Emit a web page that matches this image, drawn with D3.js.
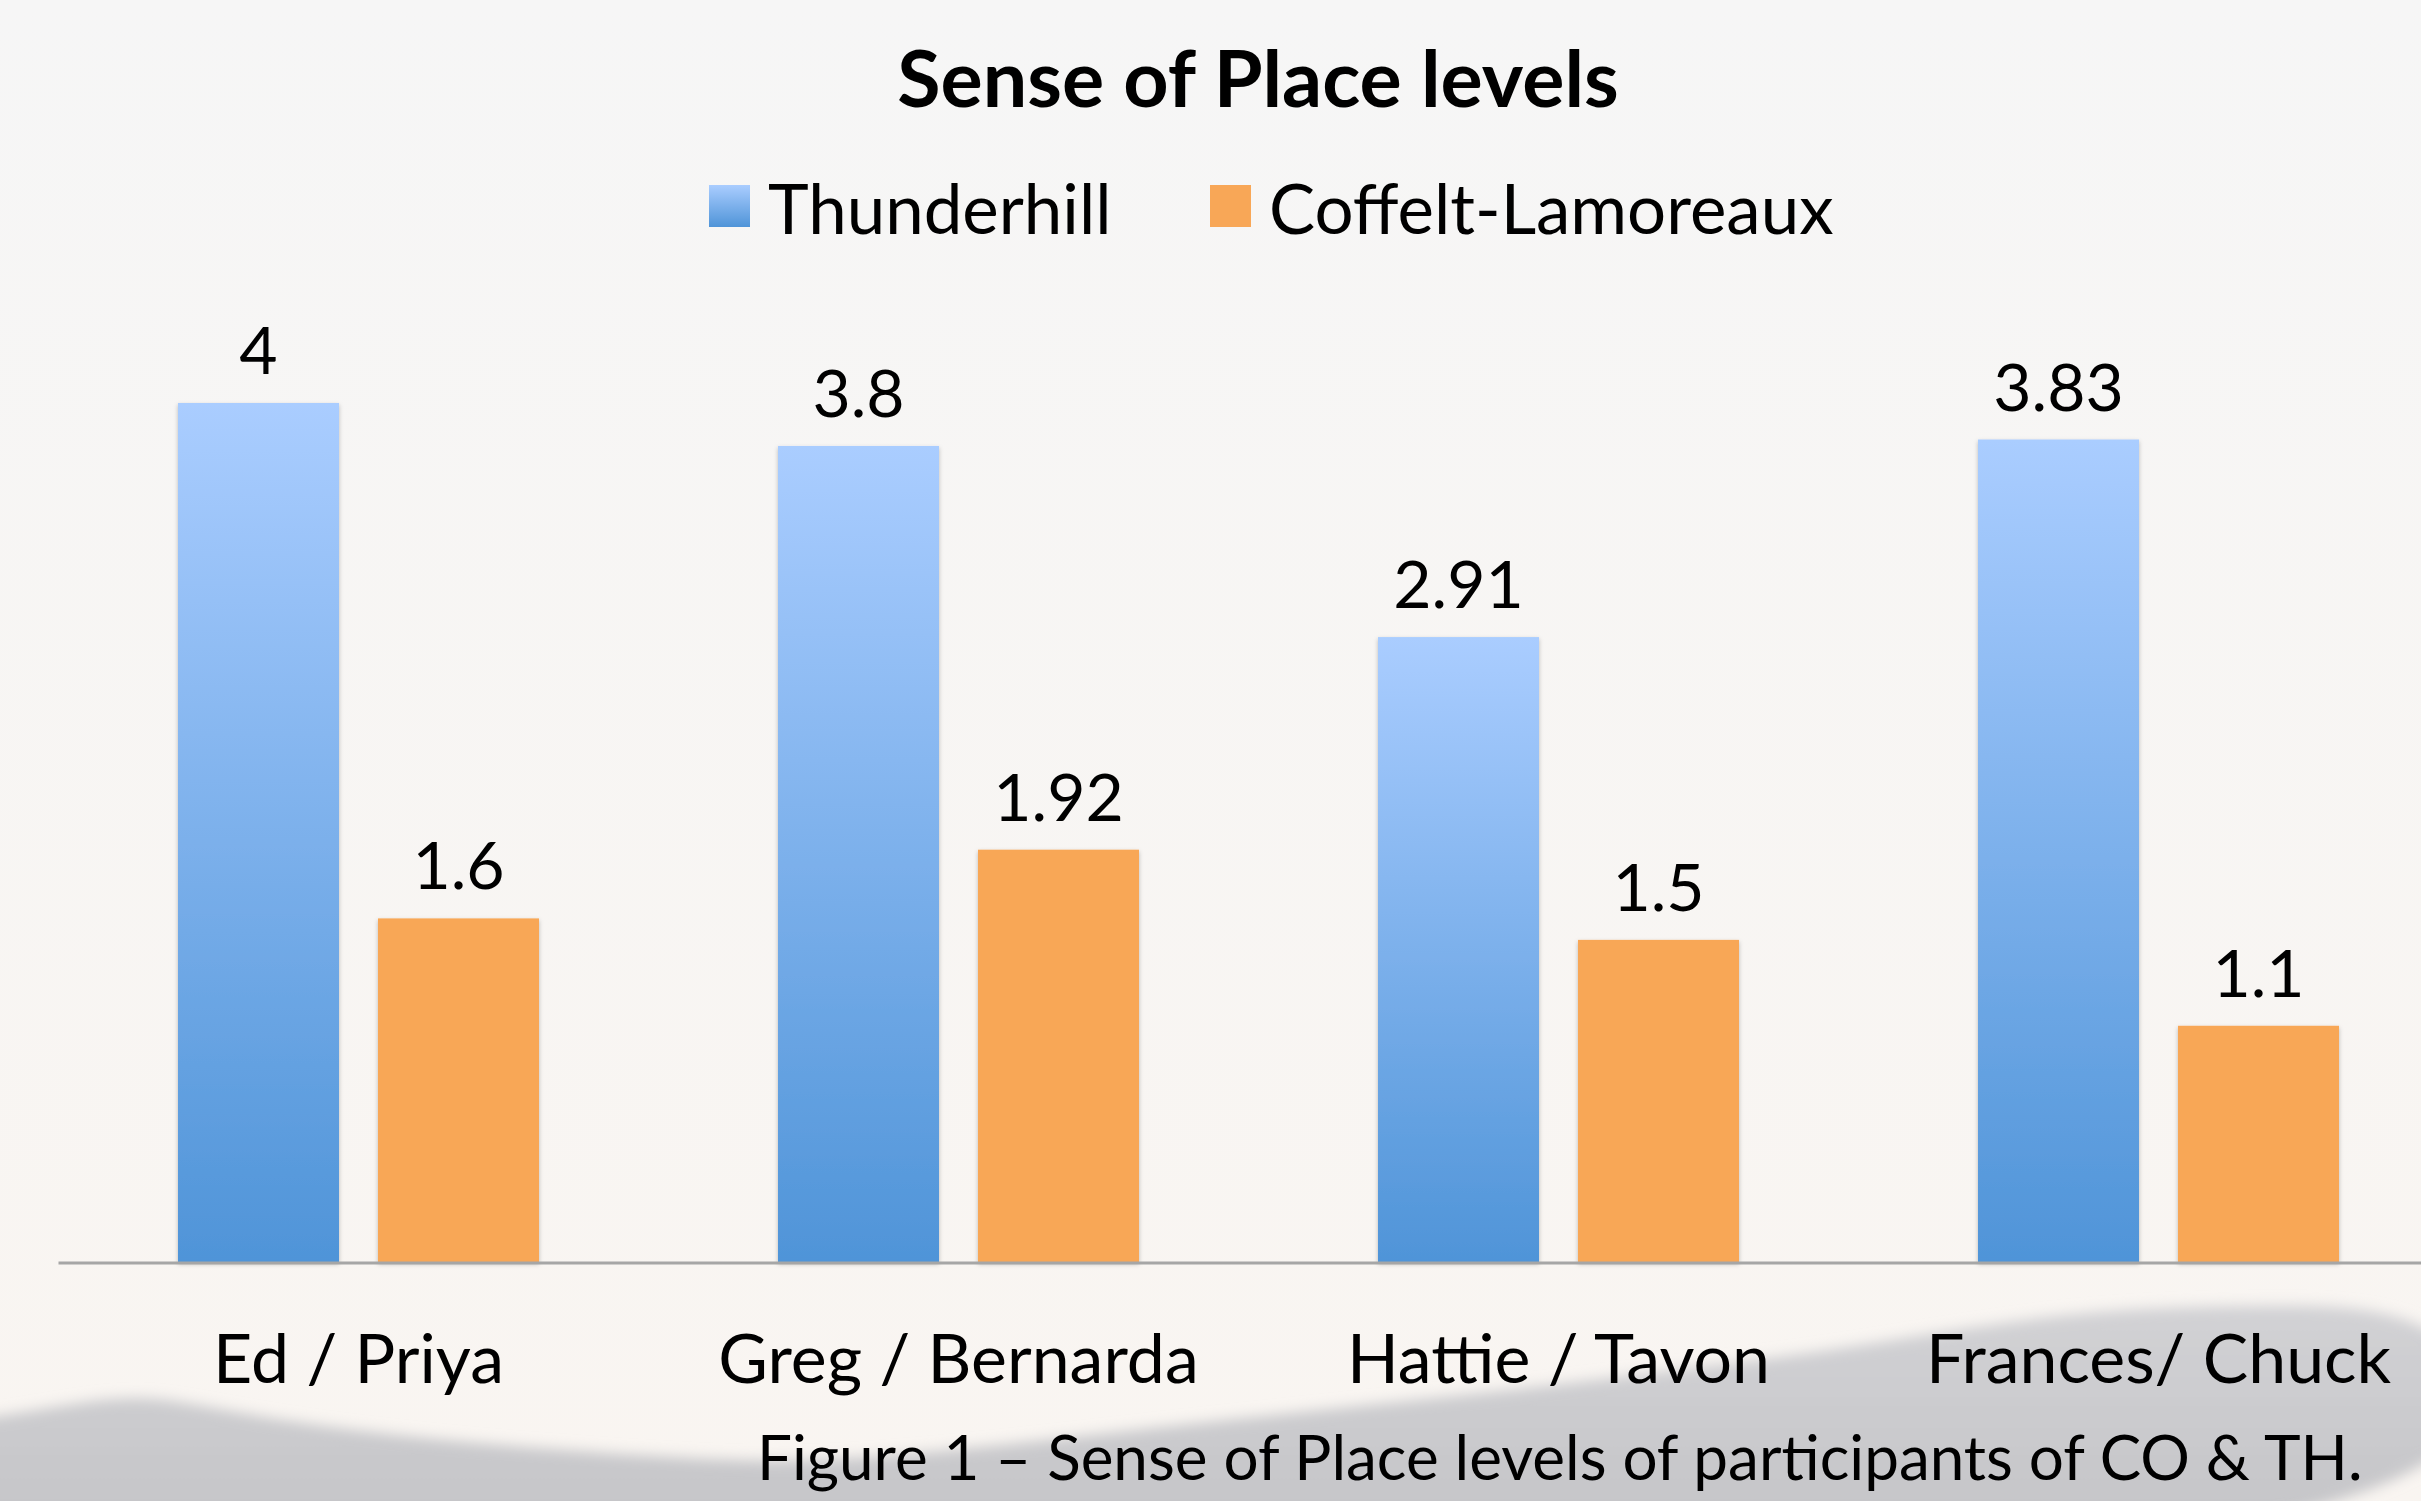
<!DOCTYPE html>
<html lang="en">
<head>
<meta charset="utf-8">
<title>Sense of Place levels</title>
<script src="https://cdn.jsdelivr.net/npm/d3@7"></script>
<style>
  html, body { margin: 0; padding: 0; overflow: hidden; }
  svg { display: block; }
  text { font-family: Lato, "Open Sans", sans-serif; fill: #000; }
</style>
</head>
<body>
<script>
// data
var pairs = ["Ed / Priya", "Greg / Bernarda", "Hattie / Tavon", "Frances/ Chuck"];
var series = ["Thunderhill", "Coffelt-Lamoreaux"];
var thunderhill = [4, 3.8, 2.91, 3.83];
var coffelt = [1.6, 1.92, 1.5, 1.1];
var titleText = "Sense of Place levels";
var captionText = "Figure 1 \u2013 Sense of Place levels of participants of CO & TH.";

// background hills (decoration only, not data)
var ridge = [[-80,1425],[0,1417],[80,1402],[153,1394],[255,1418],[459,1443],[663,1457],[800,1464],
             [1000,1446],[1200,1422],[1500,1392],[1700,1367],[1838,1350],[2068,1310],[2250,1305],
             [2500,1305],[2500,1600],[-80,1600]];

var W = 2421, H = 1501;
var baseline = 1262;

var svg = d3.select("body").append("svg")
  .attr("width", W)
  .attr("height", H);

var defs = svg.append("defs");

var bg = defs.append("linearGradient").attr("id", "bg").attr("x1", 0).attr("y1", 0).attr("x2", 0).attr("y2", 1);
bg.append("stop").attr("offset", "0%").attr("stop-color", "#f6f6f6");
bg.append("stop").attr("offset", "100%").attr("stop-color", "#f9f5f1");

var blue = defs.append("linearGradient").attr("id", "blueGrad").attr("x1", 0).attr("y1", 0).attr("x2", 0).attr("y2", 1);
blue.append("stop").attr("offset", "0%").attr("stop-color", "#aacdff");
blue.append("stop").attr("offset", "100%").attr("stop-color", "#4f94d8");

var hill = defs.append("linearGradient").attr("id", "hillGrad")
  .attr("gradientUnits", "userSpaceOnUse")
  .attr("x1", 0).attr("y1", 1300).attr("x2", 0).attr("y2", 1501);
hill.append("stop").attr("offset", "0%").attr("stop-color", "#d2d2d5");
hill.append("stop").attr("offset", "100%").attr("stop-color", "#c6c6c9");

var blur = defs.append("filter").attr("id", "blur")
  .attr("x", "-10%").attr("y", "-30%").attr("width", "120%").attr("height", "160%");
blur.append("feGaussianBlur").attr("stdDeviation", 7);

var shadow = defs.append("filter").attr("id", "shadow")
  .attr("x", "-10%").attr("y", "-5%").attr("width", "120%").attr("height", "110%");
shadow.append("feDropShadow").attr("dx", 0).attr("dy", 2).attr("stdDeviation", 2)
  .attr("flood-color", "#000").attr("flood-opacity", 0.25);

svg.append("rect").attr("width", W).attr("height", H).attr("fill", "url(#bg)");

svg.append("path")
  .attr("d", d3.line().curve(d3.curveBasis)(ridge))
  .attr("fill", "url(#hillGrad)")
  .attr("filter", "url(#blur)");

var colors = { "Thunderhill": "url(#blueGrad)", "Coffelt-Lamoreaux": "#f8a757" };

var rows = pairs.map(function(p, i) {
  return { pair: p, values: [
    { key: series[0], value: thunderhill[i] },
    { key: series[1], value: coffelt[i] }
  ]};
});

var x0 = d3.scaleBand()
  .domain(pairs)
  .range([58.5, 2458.5]);

var x1 = d3.scaleBand()
  .domain(series)
  .range([119.5, 480.5])
  .paddingInner(0.195);

var y = d3.scaleLinear()
  .domain([0, 4])
  .range([baseline, 403]);

// title
svg.append("text")
  .attr("x", 1258)
  .attr("y", 107)
  .attr("text-anchor", "middle")
  .style("font-size", "79px")
  .style("font-weight", "bold")
  .text(titleText);

// legend
var legendX = [709, 1210];
var legend = svg.selectAll(".legend")
  .data(series)
  .enter().append("g")
  .attr("class", "legend")
  .attr("transform", function(d, i) { return "translate(" + legendX[i] + ",0)"; });

legend.append("rect")
  .attr("y", 185)
  .attr("width", 41)
  .attr("height", 42)
  .attr("fill", function(d) { return colors[d]; });

legend.append("text")
  .attr("x", 59)
  .attr("y", 234)
  .style("font-size", "69px")
  .text(function(d) { return d; });

// bars
var groups = svg.selectAll(".group")
  .data(rows)
  .enter().append("g")
  .attr("class", "group")
  .attr("transform", function(d) { return "translate(" + x0(d.pair) + ",0)"; });

groups.selectAll("rect")
  .data(function(d) { return d.values; })
  .enter().append("rect")
  .attr("x", function(d) { return x1(d.key); })
  .attr("y", function(d) { return y(d.value); })
  .attr("width", x1.bandwidth())
  .attr("height", function(d) { return baseline - y(d.value); })
  .attr("fill", function(d) { return colors[d.key]; })
  .attr("filter", "url(#shadow)");

groups.selectAll(".val")
  .data(function(d) { return d.values; })
  .enter().append("text")
  .attr("class", "val")
  .attr("x", function(d) { return x1(d.key) + x1.bandwidth() / 2; })
  .attr("y", function(d) { return y(d.value) - 29; })
  .attr("text-anchor", "middle")
  .style("font-size", "66px")
  .text(function(d) { return d.value; });

// x axis line
svg.append("line")
  .attr("x1", 58.5)
  .attr("x2", W)
  .attr("y1", baseline + 1)
  .attr("y2", baseline + 1)
  .attr("stroke", "#a6a6a6")
  .attr("stroke-width", 3);

// category labels
svg.selectAll(".cat")
  .data(pairs)
  .enter().append("text")
  .attr("class", "cat")
  .attr("x", function(d) { return x0(d) + x0.bandwidth() / 2; })
  .attr("y", 1383)
  .attr("text-anchor", "middle")
  .style("font-size", "68px")
  .text(function(d) { return d; });

// caption
svg.append("text")
  .attr("x", 757)
  .attr("y", 1480)
  .style("font-size", "62px")
  .text(captionText);
</script>
</body>
</html>
